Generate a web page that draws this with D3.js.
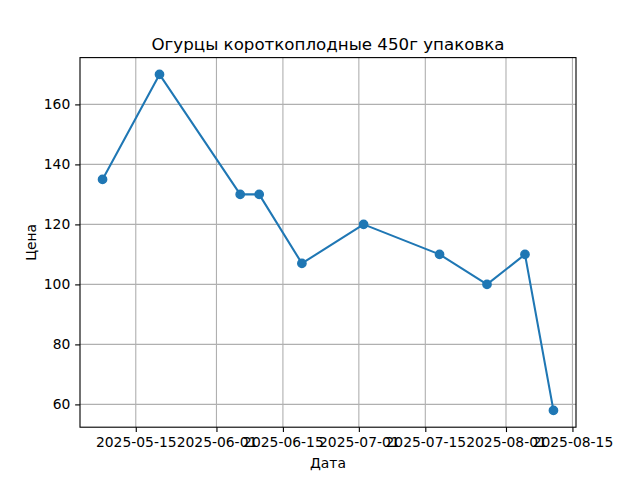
<!DOCTYPE html>
<html>
<head>
<meta charset="utf-8">
<script src="https://cdn.jsdelivr.net/npm/d3@7"></script>
<style>
html,body{margin:0;padding:0;background:#fff;}
svg{display:block;font-family:"DejaVu Sans",sans-serif;}
</style>
</head>
<body>
<svg id="chart" width="640" height="480"></svg>
<script>
const title = "Огурцы короткоплодные 450г упаковка";
const xLabel = "Дата";
const yLabel = "Цена";
const dates = ["2025-05-08","2025-05-20","2025-06-06","2025-06-10","2025-06-19","2025-07-02","2025-07-18","2025-07-28","2025-08-05","2025-08-11"];
const prices = [135,170,130,130,107,120,110,100,110,58];
const xTickLabels = ["2025-05-15","2025-06-01","2025-06-15","2025-07-01","2025-07-15","2025-08-01","2025-08-15"];
const yTicks = [60,80,100,120,140,160];

const parse = d3.utcParse("%Y-%m-%d");
const fmt = d3.utcFormat("%Y-%m-%d");
const data = dates.map((d,i)=>({date:parse(d), price:prices[i]}));

const svg = d3.select("#chart");
const L=80, R=576, T=57.6, B=427.2;
const FS = 13.89, TL = 4.86, LW = 1.11;

const xExt = d3.extent(data, d=>d.date.getTime());
const xPad = (xExt[1]-xExt[0])*0.05;
const x = d3.scaleUtc().domain([new Date(xExt[0]-xPad), new Date(xExt[1]+xPad)]).range([L,R]);
const yExt = d3.extent(prices);
const yPad = (yExt[1]-yExt[0])*0.05;
const y = d3.scaleLinear().domain([yExt[0]-yPad, yExt[1]+yPad]).range([B,T]);

const xTicks = xTickLabels.map(parse);

// grid
const grid = svg.append("g");
grid.selectAll("line.gx").data(xTicks).join("line")
  .attr("x1",d=>x(d)).attr("x2",d=>x(d)).attr("y1",T).attr("y2",B)
  .attr("stroke","#b0b0b0").attr("stroke-width",LW);
grid.selectAll("line.gy").data(yTicks).join("line")
  .attr("x1",L).attr("x2",R).attr("y1",d=>y(d)).attr("y2",d=>y(d))
  .attr("stroke","#b0b0b0").attr("stroke-width",LW);

// axes
const xAxis = d3.axisBottom(x).tickValues(xTicks).tickFormat(fmt).tickSize(TL).tickPadding(TL);
const yAxis = d3.axisLeft(y).tickValues(yTicks).tickSize(TL).tickPadding(TL);
const gx = svg.append("g").attr("transform",`translate(0,${B})`).call(xAxis);
const gy = svg.append("g").attr("transform",`translate(${L},0)`).call(yAxis);
[gx,gy].forEach(g=>{
  g.select(".domain").remove();
  g.selectAll(".tick line").attr("stroke","#000").attr("stroke-width",LW);
  g.selectAll(".tick text").attr("fill","#000").attr("font-size",FS+"px").attr("font-family","DejaVu Sans");
});
gx.selectAll(".tick text").attr("dy","0.76em");

// line + markers
const line = d3.line().x(d=>x(d.date)).y(d=>y(d.price));
svg.append("path").datum(data).attr("d",line)
  .attr("fill","none").attr("stroke","#1f77b4").attr("stroke-width",2.08).attr("stroke-linejoin","round");
svg.selectAll("circle.pt").data(data).join("circle")
  .attr("cx",d=>x(d.date)).attr("cy",d=>y(d.price)).attr("r",4.17)
  .attr("fill","#1f77b4").attr("stroke","#1f77b4").attr("stroke-width",1.39);

// spines
svg.append("rect").attr("x",L).attr("y",T).attr("width",R-L).attr("height",B-T)
  .attr("fill","none").attr("stroke","#000").attr("stroke-width",LW);

// labels
svg.append("text").attr("x",(L+R)/2).attr("y",49.5).attr("text-anchor","middle")
  .attr("font-size","16.67px").attr("fill","#000").text(title);
svg.append("text").attr("x",(L+R)/2).attr("y",468).attr("text-anchor","middle")
  .attr("font-size",FS+"px").attr("fill","#000").text(xLabel);
svg.append("text").attr("transform",`translate(36,${(T+B)/2}) rotate(-90)`).attr("text-anchor","middle")
  .attr("font-size",FS+"px").attr("fill","#000").text(yLabel);
</script>
</body>
</html>
